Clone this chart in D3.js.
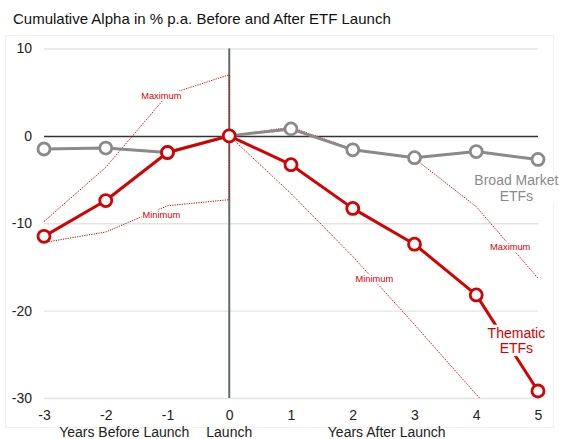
<!DOCTYPE html>
<html><head><meta charset="utf-8">
<script src="https://cdn.jsdelivr.net/npm/d3@7"></script>
<style>
body{margin:0;background:#fff;font-family:"Liberation Sans",Arial,Helvetica,sans-serif;}
</style></head><body>
<svg id="c" width="566" height="439"></svg>
<script>
const title = "Cumulative Alpha in % p.a. Before and After ETF Launch";
const years = [-3,-2,-1,0,1,2,3,4,5];
const xTicks = [-3,-2,-1,0,1,2,3,4,5];
const yTicks = [10,0,-10,-20,-30];
const thematic = [-11.5,-7.4,-1.9,0,-3.3,-8.3,-12.4,-18.2,-29.2];
const broad    = [-1.5,-1.4,-1.9,0,0.8,-1.6,-2.5,-1.8,-2.7];
const maxYearsBefore = [-3,-2,-1,0];
const maxBefore = [-9.8,-3.6,4.7,7.0];
const minBefore = [-12.2,-11.0,-8.0,-7.3];
const afterYears = [0,1,2,3,4,5];
const maxAfter = [0,1.0,-1.5,-2.6,-8.1,-16.3];
const minAfter = [0,-6.6,-13.8,-21.6,-29.6,-37];
const bandLabels = [
  {text:"Maximum", x:-1.1, y:4.6},
  {text:"Minimum", x:-1.1, y:-9.0},
  {text:"Maximum", x:4.55, y:-12.7},
  {text:"Minimum", x:2.35, y:-16.4}
];
const seriesLabels = [
  {lines:["Broad Market","ETFs"], x:4.65, y:-5.65, color:"#8a8a8a"},
  {lines:["Thematic","ETFs"], x:4.65, y:-23.1, color:"#d50000"}
];
const xTitles = [{text:"Years Before Launch", x:-1.7},{text:"Launch", x:0},{text:"Years After Launch", x:2.55}];

const RED = "#d50000", GRAY = "#8a8a8a";
const svg = d3.select("#c");
const x = d3.scaleLinear().domain([-3,5]).range([44,538]);
const y = d3.scaleLinear().domain([-30,10]).range([398,48.5]);

// faint panel
svg.append("rect").attr("x",5.5).attr("y",35.5).attr("width",548).attr("height",392)
  .attr("fill","#fff").attr("stroke","#f1f1f1");

svg.append("text").attr("x",13).attr("y",24).attr("font-size",15).attr("fill","#111").text(title);

svg.append("defs").append("clipPath").attr("id","clip").append("rect")
  .attr("x",30).attr("y",40).attr("width",530).attr("height",398-40);

// y axis with gridlines
const ya = svg.append("g").attr("transform",`translate(${x(-3)},0)`)
  .call(d3.axisLeft(y).tickValues(yTicks).tickSize(-(x(5)-x(-3))).tickPadding(12).tickFormat(d=>String(d)));
ya.select(".domain").remove();
ya.selectAll(".tick line").attr("stroke",d=>d===0?"#333":"#e3e3e3").attr("stroke-width",d=>d===0?1.5:1.3);
ya.selectAll(".tick text").attr("font-size",14).attr("fill","#222").attr("font-family","Liberation Sans, Arial, sans-serif");

// x axis
const xa = svg.append("g").attr("transform",`translate(0,${y(-30)})`)
  .call(d3.axisBottom(x).tickValues(xTicks).tickSize(0).tickPadding(12).tickFormat(d=>String(d)));
xa.select(".domain").remove();
xa.selectAll(".tick text").attr("font-size",14).attr("fill","#222").attr("font-family","Liberation Sans, Arial, sans-serif");

svg.append("g").selectAll("text").data(xTitles).join("text")
  .attr("x",d=>x(d.x)).attr("y",437).attr("text-anchor","middle").attr("font-size",14).attr("fill","#222")
  .text(d=>d.text);

// launch vertical line
svg.append("line").attr("x1",x(0)).attr("x2",x(0)).attr("y1",y(10)).attr("y2",y(-30))
  .attr("stroke","#5f6e68").attr("stroke-width",2);

// dotted band lines
const line = d3.line().x(d=>x(d[0])).y(d=>y(d[1]));
const dotted = svg.append("g").attr("clip-path","url(#clip)");
const maxPts = maxYearsBefore.map((t,i)=>[t,maxBefore[i]]).concat(afterYears.map((t,i)=>[t,maxAfter[i]]));
const minPts = maxYearsBefore.map((t,i)=>[t,minBefore[i]]).concat(afterYears.map((t,i)=>[t,minAfter[i]]));
[maxPts,minPts].forEach(p=>dotted.append("path").attr("d",line(p)).attr("fill","none")
  .attr("stroke",RED).attr("stroke-width",1).attr("stroke-dasharray","1.2,1.2"));

// band labels
const bl = svg.append("g").selectAll("g").data(bandLabels).join("g")
  .attr("transform",d=>`translate(${x(d.x)},${y(d.y)})`);
bl.append("text").attr("text-anchor","middle").attr("dy","0.35em").attr("font-size",9.3).attr("fill",RED).text(d=>d.text)
  .each(function(){
    const b=this.getBBox();
    d3.select(this.parentNode).insert("rect","text").attr("x",b.x-1).attr("y",b.y).attr("width",b.width+2).attr("height",b.height).attr("fill","#fff");
  });

// series lines
function drawSeries(vals,color){
  const pts = years.map((t,i)=>[t,vals[i]]);
  svg.append("path").attr("d",line(pts)).attr("fill","none").attr("stroke",color).attr("stroke-width",3).attr("stroke-linejoin","round");
  svg.append("g").selectAll("circle").data(pts).join("circle")
    .attr("cx",d=>x(d[0])).attr("cy",d=>y(d[1])).attr("r",6)
    .attr("fill","#fff").attr("stroke",color).attr("stroke-width",2.8);
}
drawSeries(broad,GRAY);
drawSeries(thematic,RED);

// series labels
seriesLabels.forEach(s=>{
  const g = svg.append("g").attr("transform",`translate(${x(s.x)},${y(s.y)})`);
  const t = g.append("text").attr("text-anchor","middle").attr("font-size",14).attr("fill",s.color);
  s.lines.forEach((l,i)=>t.append("tspan").attr("x",0).attr("dy",i===0?"0em":"1.1em").text(l));
  const b = t.node().getBBox();
  g.insert("rect","text").attr("x",b.x-2).attr("y",b.y).attr("width",b.width+4).attr("height",b.height).attr("fill","#fff");
});
</script>
</body></html>
